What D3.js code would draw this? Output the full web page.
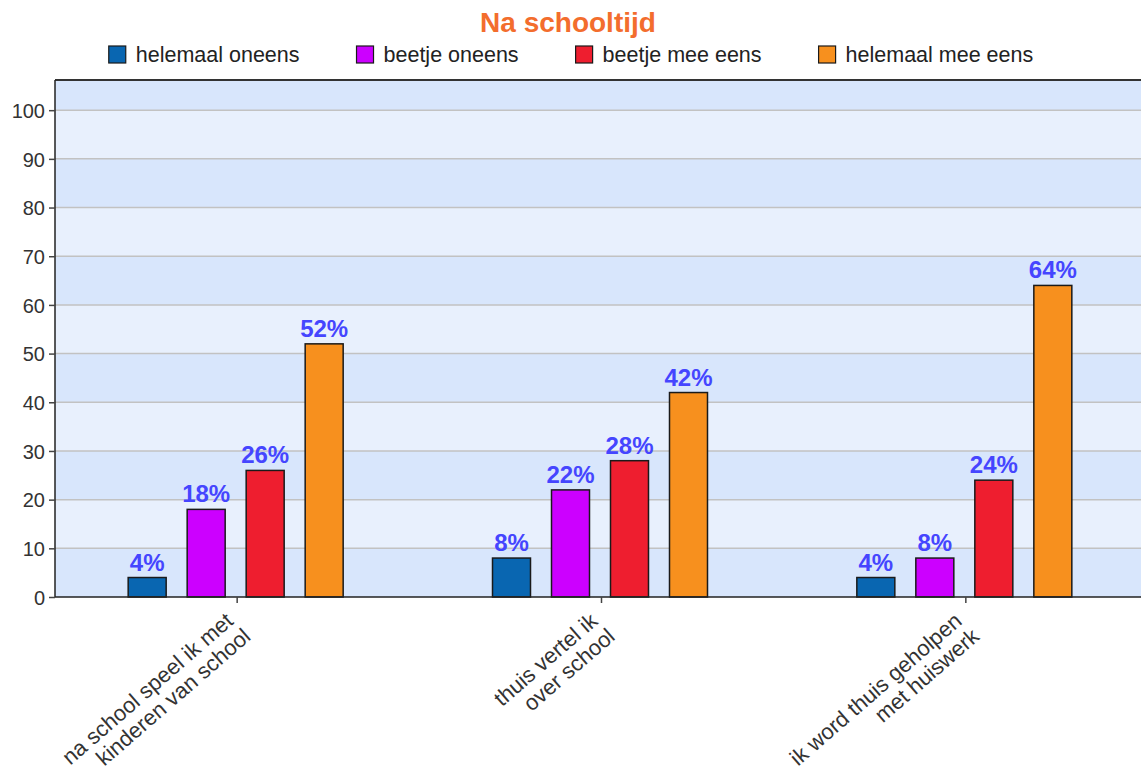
<!DOCTYPE html>
<html>
<head>
<meta charset="utf-8">
<script src="https://cdn.jsdelivr.net/npm/d3@7"></script>
<style>
  html, body { margin: 0; padding: 0; background: #ffffff; }
  svg { display: block; }
</style>
</head>
<body>
<svg id="chart" width="1141" height="776"></svg>
<script>
// ---- data ----
const title = "Na schooltijd";
const categories = [
  "na school speel ik met\nkinderen van school",
  "thuis vertel ik\nover school",
  "ik word thuis geholpen\nmet huiswerk"
];
const seriesNames = ["helemaal oneens", "beetje oneens", "beetje mee eens", "helemaal mee eens"];
const helemaalOneens  = [4, 8, 4];
const beetjeOneens    = [18, 22, 8];
const beetjeMeeEens   = [26, 28, 24];
const helemaalMeeEens = [52, 42, 64];
const seriesColors = ["#0966b1", "#cc00ff", "#ee1e2f", "#f7901e"];
const yTicks = [0, 10, 20, 30, 40, 50, 60, 70, 80, 90, 100];
const yMax = 106.2;

const seriesValues = [helemaalOneens, beetjeOneens, beetjeMeeEens, helemaalMeeEens];

// ---- layout ----
const svg = d3.select("#chart");
const W = 1141, H = 776;
const plot = { left: 55, top: 80, right: 1148, bottom: 597 };

svg.append("rect").attr("width", W).attr("height", H).attr("fill", "#ffffff");

const x0 = d3.scaleBand().domain(categories).range([plot.left, plot.right]).paddingInner(0).paddingOuter(0);
const x1 = d3.scaleBand().domain(seriesNames).range([-119.5, 116.5]).paddingInner(0.356).paddingOuter(0.178);
const y = d3.scaleLinear().domain([0, yMax]).range([plot.bottom, plot.top]);

// background stripes
const stripeEdges = yTicks.concat([yMax]);
const stripes = d3.range(stripeEdges.length - 1).map(i => ({ lo: stripeEdges[i], hi: stripeEdges[i + 1], k: i }));
svg.append("g").selectAll("rect").data(stripes).join("rect")
  .attr("x", plot.left)
  .attr("width", plot.right - plot.left + 10)
  .attr("y", d => y(d.hi))
  .attr("height", d => y(d.lo) - y(d.hi))
  .attr("fill", d => d.k % 2 === 0 ? "#d8e6fc" : "#e8f0fd");

// gridlines
svg.append("g").selectAll("line").data(yTicks.filter(t => t > 0)).join("line")
  .attr("x1", plot.left).attr("x2", plot.right + 10)
  .attr("y1", d => y(d)).attr("y2", d => y(d))
  .attr("stroke", "#c2c2c2").attr("stroke-width", 1.5);

// top border
svg.append("line").attr("x1", plot.left).attr("x2", plot.right + 10)
  .attr("y1", plot.top).attr("y2", plot.top)
  .attr("stroke", "#333").attr("stroke-width", 2);

// bars
const groups = svg.append("g").selectAll("g").data(categories).join("g")
  .attr("transform", c => `translate(${x0(c) + x0.bandwidth() / 2},0)`);

groups.each(function(c, ci) {
  const g = d3.select(this);
  const recs = seriesNames.map((s, si) => ({ s, v: seriesValues[si][ci], color: seriesColors[si] }));
  g.selectAll("rect").data(recs).join("rect")
    .attr("x", d => x1(d.s))
    .attr("width", x1.bandwidth())
    .attr("y", d => y(d.v))
    .attr("height", d => y(0) - y(d.v))
    .attr("fill", d => d.color)
    .attr("stroke", "#1a1a1a").attr("stroke-width", 1.5);
  g.selectAll("text").data(recs).join("text")
    .attr("x", d => x1(d.s) + x1.bandwidth() / 2)
    .attr("y", d => y(d.v) - 7)
    .attr("text-anchor", "middle")
    .attr("font-family", "'Liberation Sans', Arial, sans-serif")
    .attr("font-weight", "bold")
    .attr("font-size", 24)
    .attr("fill", "#4545ff")
    .text(d => d.v + "%");
});

// y axis
const yAxis = d3.axisLeft(y).tickValues(yTicks).tickSize(6).tickPadding(4).tickFormat(d3.format("d"));
const yg = svg.append("g").attr("transform", `translate(${plot.left},0)`).call(yAxis);
yg.select(".domain").attr("stroke", "#222").attr("stroke-width", 1.5).attr("d", `M0,${plot.top}V${plot.bottom}`);
yg.selectAll(".tick line").attr("stroke", "#444").attr("stroke-width", 1.5);
yg.selectAll(".tick text")
  .attr("font-family", "'Liberation Sans', Arial, sans-serif")
  .attr("font-size", 20).attr("fill", "#333")
  .attr("dy", "0.36em");

// x axis
const xAxis = d3.axisBottom(x0).tickSize(6).tickFormat("");
const xg = svg.append("g").attr("transform", `translate(0,${plot.bottom})`).call(xAxis);
xg.select(".domain").attr("stroke", "#222").attr("stroke-width", 1.5).attr("d", `M${plot.left},0H${plot.right + 10}`);
xg.selectAll(".tick line").attr("stroke", "#444").attr("stroke-width", 1.5);
xg.selectAll(".tick text").remove();

// rotated category labels
const lab = svg.append("g").selectAll("g").data(categories).join("g")
  .attr("transform", c => `translate(${x0(c) + x0.bandwidth() / 2},${plot.bottom}) rotate(-41)`);
lab.each(function(c) {
  const lines = c.split("\n");
  d3.select(this).selectAll("text").data(lines).join("text")
    .attr("x", (d, i) => i === 0 ? -19 : -16)
    .attr("y", (d, i) => 18 + i * 23)
    .attr("text-anchor", "end")
    .attr("font-family", "'Liberation Sans', Arial, sans-serif")
    .attr("font-size", 22)
    .attr("fill", "#333")
    .text(d => d);
});

// title
svg.append("text")
  .attr("x", 568).attr("y", 32)
  .attr("text-anchor", "middle")
  .attr("font-family", "'Liberation Sans', Arial, sans-serif")
  .attr("font-weight", "bold")
  .attr("font-size", 28)
  .attr("fill", "#f36d2d")
  .text(title);

// legend
const legend = svg.append("g");
const items = legend.selectAll("g").data(seriesNames).join("g");
items.append("rect")
  .attr("width", 17).attr("height", 17)
  .attr("y", 46)
  .attr("fill", (d, i) => seriesColors[i])
  .attr("stroke", "#1a1a1a").attr("stroke-width", 1.2);
items.append("text")
  .attr("x", 27).attr("y", 62)
  .attr("font-family", "'Liberation Sans', Arial, sans-serif")
  .attr("font-size", 21.5)
  .attr("fill", "#222")
  .text(d => d);
let cursor = 0;
const widths = [];
items.each(function() {
  const w = this.querySelector("text").getComputedTextLength();
  widths.push(27 + w);
});
const totalW = d3.sum(widths) + 57 * (widths.length - 1);
cursor = 571 - totalW / 2;
items.attr("transform", (d, i) => {
  const tx = cursor;
  cursor += widths[i] + 57;
  return `translate(${tx},0)`;
});
</script>
</body>
</html>
